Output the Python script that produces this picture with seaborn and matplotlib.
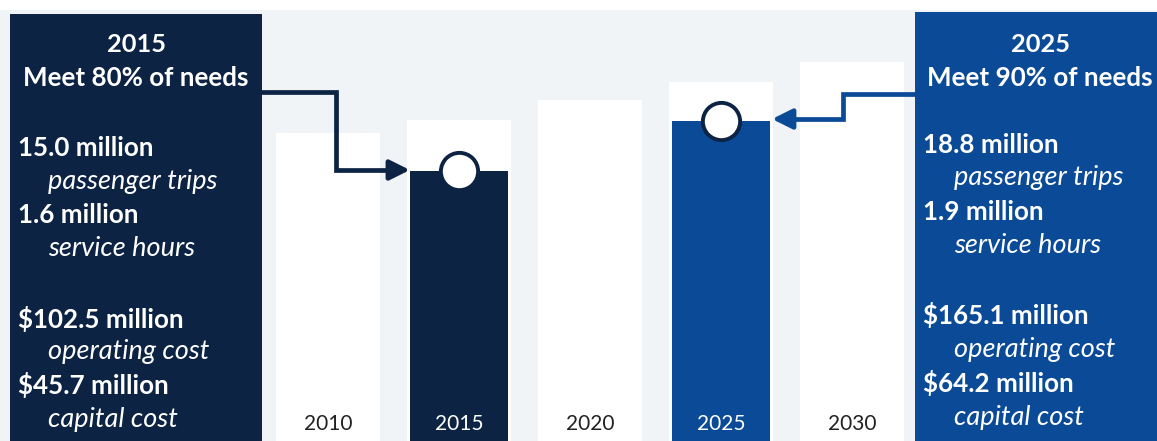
import numpy as np
import pandas as pd
import matplotlib
matplotlib.use("Agg")
import matplotlib.pyplot as plt
from matplotlib.patches import Rectangle
import seaborn as sns

# ---- data -------------------------------------------------------------
years = ["2010", "2015", "2020", "2025", "2030"]
need_index = [308, 321, 341, 359, 379]          # total need (relative height)
met_index = [np.nan, 270, np.nan, 320, np.nan]  # level of need met

left_title = ["2015", "Meet 80% of needs"]
left_items = [("15.0 million", "passenger trips"),
              ("1.6 million", "service hours"),
              ("$102.5 million", "operating cost"),
              ("$45.7 million", "capital cost")]
right_title = ["2025", "Meet 90% of needs"]
right_items = [("18.8 million", "passenger trips"),
               ("1.9 million", "service hours"),
               ("$165.1 million", "operating cost"),
               ("$64.2 million", "capital cost")]

# ---- style ------------------------------------------------------------
NAVY = "#0c2344"
BLUE = "#0b4a96"
BG = "#f1f4f7"
sns.set_theme(style="white")
plt.rcParams["font.family"] = ["Lato", "DejaVu Sans"]

W, H = 1157, 441
fig = plt.figure(figsize=(W / 100, H / 100), dpi=100, facecolor="white")


def fx(px):
    return px / W


def fy(py):
    return 1 - py / H


ax = fig.add_axes([0, 0, 1, fy(10)])
ax.set_facecolor(BG)

df = pd.DataFrame({"year": years, "need": need_index, "met": met_index})
sns.barplot(data=df, x="year", y="need", order=years, color="white",
            width=0.79, saturation=1, linewidth=0, ax=ax)
bar_colors = {"2010": NAVY, "2015": NAVY, "2020": BLUE, "2025": BLUE, "2030": BLUE}
sns.barplot(data=df, x="year", y="met", order=years, hue="year",
            palette=bar_colors, width=0.75, saturation=1, linewidth=0,
            legend=False, ax=ax)

# pixel-aligned scales: bar spacing 131 px, first bar centred at x=328 px
step, x0 = 131.0, 328.0
ax.set_xlim(-x0 / step, (W - x0) / step)
ax.set_ylim(0, H - 10)
for s in ax.spines.values():
    s.set_visible(False)
ax.set_xticks([])
ax.set_yticks([])
ax.set_xlabel("")
ax.set_ylabel("")


def dx(px):
    return (px - x0) / step


def dy(py):
    return H - py


# year labels inside the bars
for i, (yr, m) in enumerate(zip(years, met_index)):
    col = "white" if not np.isnan(m) else "#222222"
    ax.text(i, dy(424), yr, ha="center", va="center", fontsize=15,
            color=col, zorder=5)

# circles marking the level met
pos = [i for i, m in enumerate(met_index) if not np.isnan(m)]
vals = [met_index[i] for i in pos]
ax.scatter(pos, vals, s=720, facecolor="white", edgecolor=NAVY,
           linewidth=2.8, zorder=6, clip_on=False)

# connector arrows from the side panels to the bars
lw = 3.4
ax.plot([dx(262), dx(336), dx(336), dx(392)],
        [dy(92), dy(92), dy(170), dy(170)], color=NAVY, lw=lw,
        solid_joinstyle="miter", zorder=4)
ax.annotate("", xy=(1 - 0.375, dy(170)), xytext=(dx(388), dy(170)),
            arrowprops=dict(arrowstyle="-|>,head_length=1.0,head_width=0.5",
                            color=NAVY, lw=lw, shrinkA=0, shrinkB=0),
            zorder=4)
ax.plot([dx(915), dx(843), dx(843), dx(790)],
        [dy(94), dy(94), dy(119), dy(119)], color=BLUE, lw=lw,
        solid_joinstyle="miter", zorder=4)
ax.annotate("", xy=(3 + 0.39, dy(119)), xytext=(dx(794), dy(119)),
            arrowprops=dict(arrowstyle="-|>,head_length=1.0,head_width=0.5",
                            color=BLUE, lw=lw, shrinkA=0, shrinkB=0),
            zorder=4)

# side panels
fig.patches.append(Rectangle((fx(10), 0), fx(262) - fx(10), fy(14),
                             transform=fig.transFigure, facecolor=NAVY,
                             edgecolor="none", zorder=1))
fig.patches.append(Rectangle((fx(915), 0), 1 - fx(915), fy(12),
                             transform=fig.transFigure, facecolor=BLUE,
                             edgecolor="none", zorder=1))


def panel(cx, lx, ix, title, items, ys):
    fig.text(fx(cx), fy(45), title[0], ha="center", va="center",
             fontsize=18.3, fontweight="bold", color="white", zorder=3)
    fig.text(fx(cx), fy(78), title[1], ha="center", va="center",
             fontsize=18.7, fontweight="bold", color="white", zorder=3)
    for (big, small), (yb, ys_) in zip(items, ys):
        fig.text(fx(lx), fy(yb), big, ha="left", va="center", fontsize=18.7,
                 fontweight="bold", color="white", zorder=3)
        fig.text(fx(ix), fy(ys_), small, ha="left", va="center",
                 fontsize=19.5, fontstyle="italic", color="white", zorder=3)


panel(136, 18, 48, left_title, left_items,
      [(148, 182), (215, 249), (319, 352), (385, 419)])
panel(1040, 923, 954, right_title, right_items,
      [(145, 178), (212, 246), (315, 350), (383, 417)])

fig.savefig("out.png", dpi=100, facecolor="white")
